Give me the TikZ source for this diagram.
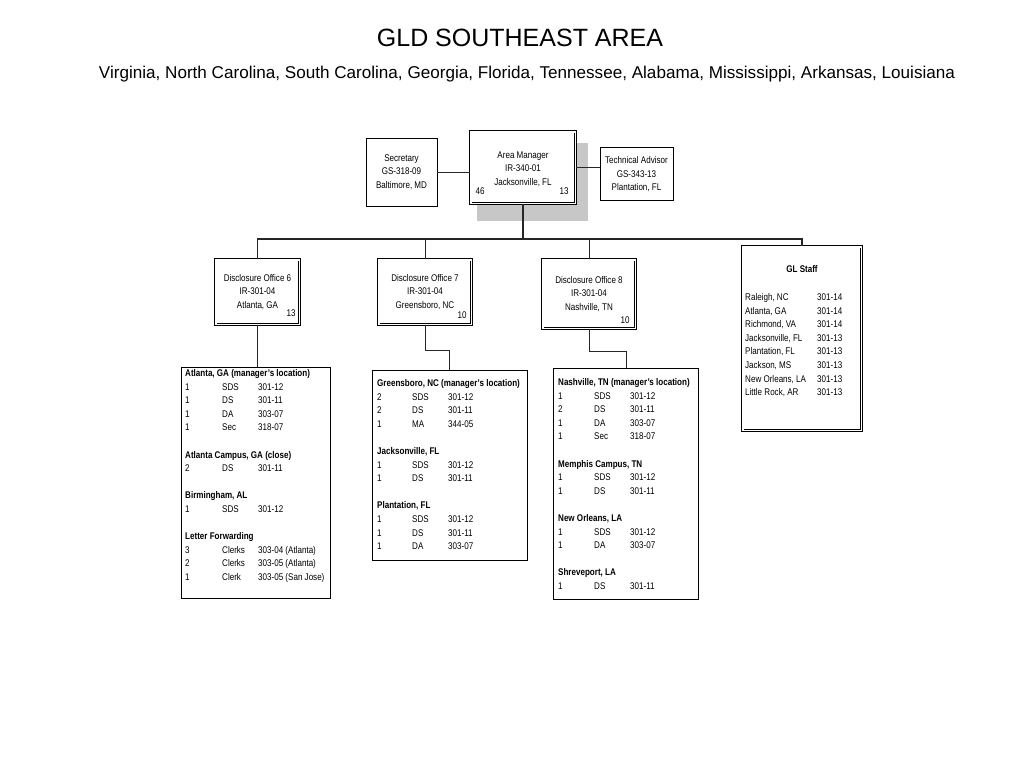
\documentclass[tikz,border=0pt]{standalone}
\usepackage{fontspec}
\setmainfont{Liberation Sans}
\newfontfamily\nf[FakeStretch=0.83]{Liberation Sans}
\newcommand\smallnf{\nf\fontsize{9.7}{13.6}\selectfont}
\usetikzlibrary{calc}
\begin{document}
\begin{tikzpicture}[x=1pt,y=-1pt,
 sbox/.style={draw=black,line width=0.9pt,fill=white,inner sep=0pt,align=center,font=\smallnf},
 dbox/.style={draw=black,line width=0.7pt,double=white,double distance=1.6pt,fill=white,inner sep=0pt,align=center,font=\smallnf},
 conn/.style={draw=black!85,line width=1pt},
 txt/.style={inner sep=0pt,font=\smallnf},
 ctxt/.style={inner sep=0pt,font=\smallnf,align=center},
 tbl/.style={inner sep=0pt,font=\smallnf,anchor=base west},
]
\useasboundingbox (0,0) rectangle (1024,768);
% titles
\node[inner sep=0pt,font=\fontsize{25}{30}\selectfont] (title) at (520,38) {GLD SOUTHEAST AREA};
\node[inner sep=0pt,font=\fontsize{17.1}{20}\selectfont] (subtitle) at (527,74) {Virginia, North Carolina, South Carolina, Georgia, Florida, Tennessee, Alabama, Mississippi, Arkansas, Louisiana};
% top level
\node[fill=black!22,inner sep=0pt,minimum width=111pt,minimum height=78pt] (shadow) at (532.5,182) {};
\node[dbox,minimum width=104.6pt,minimum height=71.6pt] (am) at (523,167.5) {};
\node[ctxt] (amtext) at (523,169) {Area Manager\\IR-340-01\\Jacksonville, FL};
\node[txt] (am46) at (480,191) {46};
\node[txt] (am13) at (564,191) {13};
\node[sbox,minimum width=71pt,minimum height=68pt] (sec) at (401.5,172) {Secretary\\GS-318-09\\Baltimore, MD};
\node[sbox,minimum width=73pt,minimum height=53pt] (ta) at (636.5,173.5) {};
\node[ctxt] (tatext) at (636.5,174.5) {Technical Advisor\\GS-343-13\\Plantation, FL};
\draw[conn] (sec.east) -- (sec.east -| am.west);
\draw[conn] (am.east) -- (am.east -| ta.west);
% second level
\node[dbox,minimum width=83.6pt,minimum height=64.6pt] (do6) at (257.5,292) {Disclosure Office 6\\IR-301-04\\Atlanta, GA};
\node[txt] (n6) at (291,313) {13};
\node[dbox,minimum width=92.6pt,minimum height=64.6pt] (do7) at (425,292) {Disclosure Office 7\\IR-301-04\\Greensboro, NC};
\node[txt] (n7) at (462,315) {10};
\node[dbox,minimum width=92.6pt,minimum height=68.6pt] (do8) at (589,294) {Disclosure Office 8\\IR-301-04\\Nashville, TN};
\node[txt] (n8) at (625,320) {10};
\node[dbox,minimum width=118.6pt,minimum height=183.6pt] (gl) at (802,338.5) {};
\node[txt,font=\smallnf\bfseries] (gltitle) at (802,269) {GL Staff};
\node[tbl] (gltab) at (745,300.5) {\begin{tabular}[t]{@{}p{72pt}@{}l@{}}
Raleigh, NC & 301-14\\
Atlanta, GA & 301-14\\
Richmond, VA & 301-14\\
Jacksonville, FL & 301-13\\
Plantation, FL & 301-13\\
Jackson, MS & 301-13\\
New Orleans, LA & 301-13\\
Little Rock, AR & 301-13\\
\end{tabular}};
% bus
\coordinate (bus) at (523,239);
\draw[conn,line width=1.3pt] (am.south) -- (bus);
\draw[conn,line width=1.2pt] (do6.north) -- (do6.north |- bus) -- (gl.north |- bus) -- (gl.north);
\draw[conn] (do7.north) -- (do7.north |- bus);
\draw[conn] (do8.north) -- (do8.north |- bus);
% third level
\node[sbox,minimum width=149pt,minimum height=231pt] (atl) at (255.5,483) {};
\node[sbox,minimum width=155pt,minimum height=190pt] (gre) at (449.5,465) {};
\node[sbox,minimum width=145pt,minimum height=231pt] (nas) at (626,484) {};
\coordinate (j7) at (449.5,350);
\coordinate (j8) at (626,351);
\draw[conn] (do6.south) -- (do6.south |- atl.north);
\draw[conn] (do7.south) |- (j7) -- (gre.north);
\draw[conn] (do8.south) |- (j8) -- (nas.north);
\node[tbl] (atltab) at (185,376.5) {\begin{tabular}[t]{@{}p{37pt}@{}p{36pt}@{}l@{}}
\multicolumn{3}{@{}l@{}}{\bfseries Atlanta, GA (manager’s location)}\\
1 & SDS & 301-12\\
1 & DS & 301-11\\
1 & DA & 303-07\\
1 & Sec & 318-07\\
\mbox{}\\
\multicolumn{3}{@{}l@{}}{\bfseries Atlanta Campus, GA (close)}\\
2 & DS & 301-11\\
\mbox{}\\
\multicolumn{3}{@{}l@{}}{\bfseries Birmingham, AL}\\
1 & SDS & 301-12\\
\mbox{}\\
\multicolumn{3}{@{}l@{}}{\bfseries Letter Forwarding}\\
3 & Clerks & 303-04 (Atlanta)\\
2 & Clerks & 303-05 (Atlanta)\\
1 & Clerk & 303-05 (San Jose)\\
\end{tabular}};
\node[tbl] (gretab) at (377,386.5) {\begin{tabular}[t]{@{}p{35pt}@{}p{36pt}@{}l@{}}
\multicolumn{3}{@{}l@{}}{\bfseries Greensboro, NC (manager’s location)}\\
2 & SDS & 301-12\\
2 & DS & 301-11\\
1 & MA & 344-05\\
\mbox{}\\
\multicolumn{3}{@{}l@{}}{\bfseries Jacksonville, FL}\\
1 & SDS & 301-12\\
1 & DS & 301-11\\
\mbox{}\\
\multicolumn{3}{@{}l@{}}{\bfseries Plantation, FL}\\
1 & SDS & 301-12\\
1 & DS & 301-11\\
1 & DA & 303-07\\
\end{tabular}};
\node[tbl] (nastab) at (558,385.5) {\begin{tabular}[t]{@{}p{36pt}@{}p{36pt}@{}l@{}}
\multicolumn{3}{@{}l@{}}{\bfseries Nashville, TN (manager’s location)}\\
1 & SDS & 301-12\\
2 & DS & 301-11\\
1 & DA & 303-07\\
1 & Sec & 318-07\\
\mbox{}\\
\multicolumn{3}{@{}l@{}}{\bfseries Memphis Campus, TN}\\
1 & SDS & 301-12\\
1 & DS & 301-11\\
\mbox{}\\
\multicolumn{3}{@{}l@{}}{\bfseries New Orleans, LA}\\
1 & SDS & 301-12\\
1 & DA & 303-07\\
\mbox{}\\
\multicolumn{3}{@{}l@{}}{\bfseries Shreveport, LA}\\
1 & DS & 301-11\\
\end{tabular}};
\end{tikzpicture}
\end{document}
